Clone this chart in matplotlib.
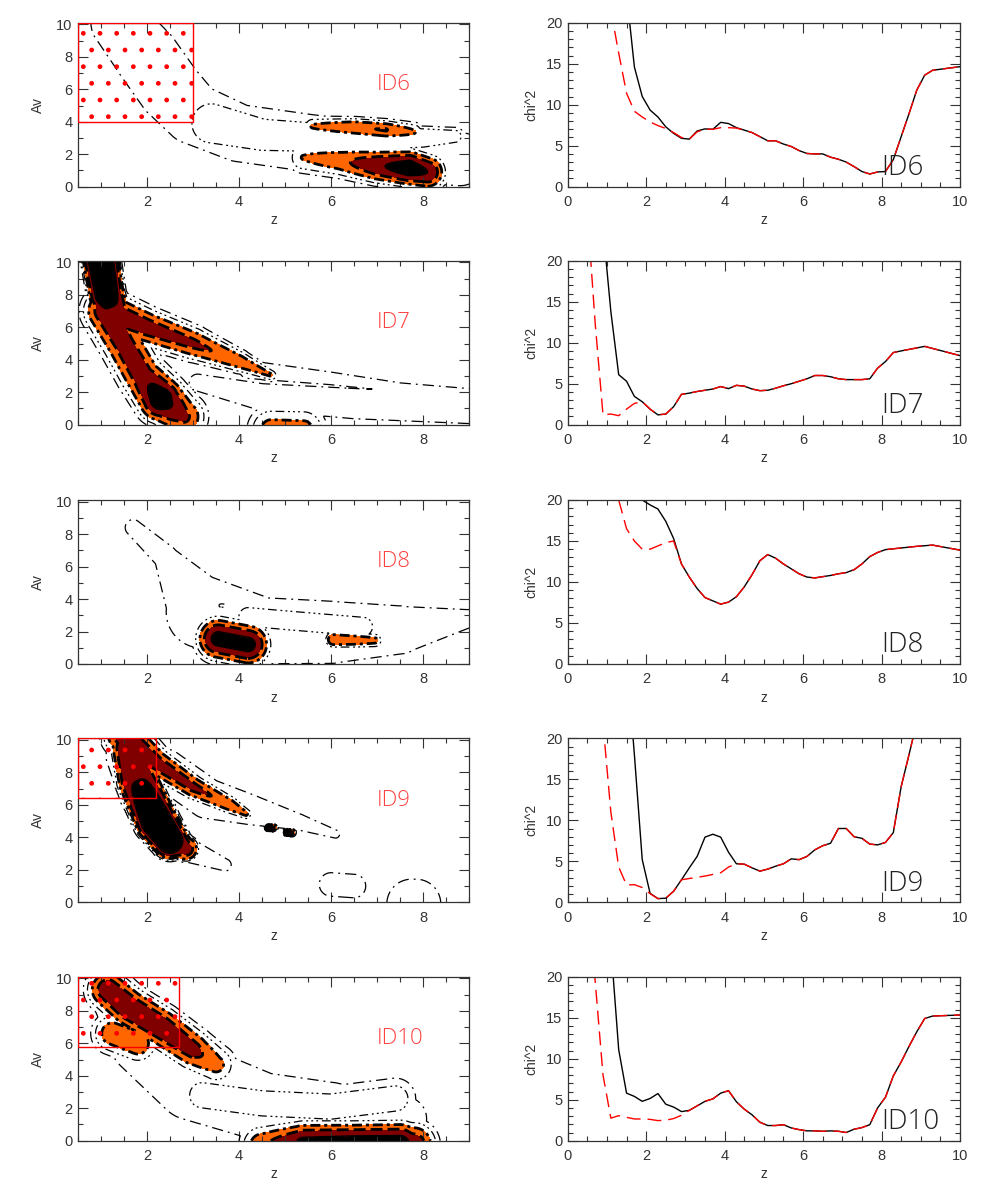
import numpy as np
import matplotlib
matplotlib.use("Agg")
import matplotlib.pyplot as plt
from matplotlib.patches import Rectangle
from matplotlib.ticker import MultipleLocator

plt.rcParams['font.family'] = ['Liberation Sans', 'DejaVu Sans']

IDS = ['ID6', 'ID7', 'ID8', 'ID9', 'ID10']

# ---- left panels: chi2 valleys in the (z, Av) plane --------------------------
# each ridge: (z vertices, Av vertices, depth at vertices, half-width px, power)
ID6_RIDGES = [
    ([5.4, 6.2, 7.0, 7.7, 8.1], [1.8, 1.6, 1.3, 1.15, 0.9], [2.95, 2.3, 1.2, 0.4, 1.0], 10, 2),
    ([5.6, 6.5, 7.2, 7.8], [3.72, 3.65, 3.5, 3.38], [2.9, 2.1, 1.95, 2.9], 6, 2),
    ([1.4, 2.0, 2.5, 3.0, 4.0, 5.5, 7.0, 8.8], [10.1, 8.0, 6.0, 4.5, 3.3, 2.7, 2.2, 1.7], 4.6,
     [30, 34, 34, 32, 30, 30, 30, 28], 2),
    ([3.4, 4.5, 6.0, 8.0, 8.7], [3.9, 3.2, 3.0, 3.0, 3.1], [3.3, 3.3, 3.3, 3.5, 3.9], [20, 16, 14, 10, 8], 4),
]
ID7_RIDGES = [
    ([1.1, 1.5, 1.9, 2.3, 2.8], [7.0, 5.0, 3.0, 1.6, 0.5], [1.3, 1.5, 1.4, 0.3, 1.8], 13, 2),
    ([0.98, 1.12, 1.3], [10.4, 8.0, 6.6], [0.2, 0.5, 1.4], 13.5, 4),
    ([1.3, 2.0, 3.0, 4.0, 4.7], [6.8, 6.0, 5.0, 3.9, 3.05], [1.3, 1.5, 1.8, 2.3, 2.9], [12, 11, 10, 7, 4], 2),
    ([4.7, 5.4], [-0.3, -0.3], [2.5, 2.6], 14, 2),
    ([3.1, 4.5, 6.5, 9.0], [2.6, 1.7, 1.3, 1.0], 4.8, [10, 16, 18, 18], 2),
    ([4.2, 6.0, 7.5, 9.2], [3.4, 2.85, 2.3, 1.9], 4.7, [10, 7, 5, 5], 2),
]
ID8_RIDGES = [
    ([3.55, 4.2], [1.55, 1.2], 0.65, 12, 2),
    ([6.05, 6.5, 6.95], [1.5, 1.47, 1.45], [2.0, 2.3, 2.7], 5, 2),
    ([3.6, 3.66], [3.6, 3.6], 3.9, 3, 2),
    ([1.7, 2.4, 3.2, 4.5, 6.0, 7.5, 9.0], [8.4, 6.6, 3.2, 2.05, 1.95, 2.1, 2.8], 4.5, [8, 12, 36, 33, 31, 24, 9], 2),
    ([4.2, 5.0, 6.7], [2.9, 2.7, 2.3], 3.6, 12, 2),
]
ID9_RIDGES = [
    ([1.5, 2.2, 3.0, 3.8, 4.15], [10.3, 8.6, 7.1, 6.0, 5.45], [1.3, 1.5, 1.7, 2.3, 2.8], [12, 9, 7.5, 6, 4], 2),
    ([1.6, 1.8, 2.2, 2.5, 2.85], [9.5, 7.5, 5.0, 3.8, 3.3], [1.5, 1.0, 0.2, 0.3, 1.8], [14, 16, 16, 14, 10], 4),
    ([4.65, 4.75], [4.6, 4.6], 0.5, 2, 2),
    ([5.05, 5.15], [4.3, 4.3], 0.5, 2, 2),
    ([2.4, 3.3, 4.25, 5.3, 6.1], [8.2, 6.4, 5.7, 4.95, 4.2], 4.5, [20, 20, 15, 8, 4], 2),
    ([1.5, 1.8, 2.3, 2.9, 3.7], [9.0, 6.5, 4.0, 3.2, 2.3], 4.5, [18, 18, 15, 12, 6], 2),
    ([7.75, 7.85], [-0.1, -0.1], 4.6, 26, 2),
    ([6.0, 6.5], [1.1, 1.0], 4.8, 14, 2),
]
ID10_RIDGES = [
    ([1.15, 1.6, 2.3, 3.0, 3.5], [9.3, 8.2, 7.0, 5.6, 4.7], [1.3, 1.1, 1.2, 1.6, 2.6], 12, 2),
    ([1.25, 1.8], [6.6, 6.0], 2.2, 12, 2),
    ([4.5, 5.4, 6.5, 7.5, 7.8], [-0.3, -0.3, -0.35, -0.3, -0.25], [2.2, 0.6, 0.35, 0.4, 1.3], 13, 2),
    ([1.3, 2.0, 3.0, 4.5, 6.0, 7.6], [9.0, 6.3, 3.6, 2.1, 1.8, 1.35], 4.5, [25, 38, 38, 34, 29, 22], 2),
    ([3.2, 4.5, 6.0, 7.4], [2.8, 2.3, 2.1, 2.6], 3.4, 14, 2),
]
RIDGES = [ID6_RIDGES, ID7_RIDGES, ID8_RIDGES, ID9_RIDGES, ID10_RIDGES]

# excluded (hatched) boxes: (z0, z1, Av0) or None
BOXES = [(0.5, 3.0, 4.0), None, None, (0.5, 2.2, 6.4), (0.5, 2.7, 5.8)]

LEVELS = [1, 2, 3]
OUTER_LEVELS = [4.2, 5.5]

# ---- right panels: chi2 vs z ------------------------------------------------
ID6_Z = [1.5, 1.7, 1.9, 2.1, 2.3, 2.5, 2.7, 2.9, 3.1, 3.3, 3.5, 3.7, 3.9, 4.1, 4.3, 4.5, 4.7, 4.9, 5.1, 5.3,
         5.5, 5.7, 5.9, 6.1, 6.3, 6.5, 6.7, 6.9, 7.1, 7.3, 7.5, 7.7, 7.9, 8.1, 8.3, 8.5, 8.7, 8.9, 9.1, 9.3, 10.1]
ID6_CHI = [23.6, 14.6, 11.0, 9.35, 8.5, 7.3, 6.5, 5.9, 5.8, 6.8, 7.05, 7.0, 7.85, 7.7, 7.2, 6.9, 6.6, 6.1, 5.6, 5.6,
           5.2, 4.9, 4.4, 4.05, 4.0, 4.0, 3.6, 3.35, 3.0, 2.45, 1.85, 1.55, 1.8, 1.85, 3.3, 6.1, 8.9, 11.8, 13.6, 14.2, 14.7]
ID6_RED_Z = [1.1, 1.3, 1.5, 1.7, 1.9, 2.1, 2.3, 2.5, 2.7, 2.9, 3.1, 3.3, 3.5, 3.7, 3.9, 4.1, 4.3]
ID6_RED = [21.5, 16.3, 11.4, 9.2, 8.5, 7.9, 7.45, 7.1, 6.6, 6.0, 5.8, 6.7, 7.0, 7.0, 7.2, 7.2, 7.15]

ID7_Z = [0.9, 1.1, 1.3, 1.5, 1.7, 1.9, 2.1, 2.3, 2.5, 2.7, 2.9, 3.1, 3.3, 3.5, 3.7, 3.9, 4.1, 4.3, 4.5, 4.7,
         4.9, 5.1, 5.3, 5.5, 5.7, 5.9, 6.1, 6.3, 6.5, 6.7, 6.9, 7.1, 7.3, 7.5, 7.7, 7.9, 8.1, 8.3, 8.5, 9.1, 10.1]
ID7_CHI = [24.0, 13.8, 6.1, 5.3, 3.45, 2.8, 1.9, 1.2, 1.3, 2.2, 3.7, 3.85, 4.05, 4.2, 4.35, 4.65, 4.4, 4.8, 4.7, 4.35,
           4.15, 4.2, 4.45, 4.75, 5.0, 5.3, 5.6, 6.0, 6.0, 5.85, 5.6, 5.5, 5.5, 5.5, 5.6, 6.9, 7.7, 8.8, 9.0, 9.55, 8.3]
ID7_RED_Z = [0.5, 0.7, 0.9, 1.1, 1.3, 1.5, 1.7]
ID7_RED = [26.0, 12.4, 1.2, 1.3, 1.1, 1.9, 2.6]

ID8_Z = [1.7, 1.9, 2.1, 2.3, 2.5, 2.7, 2.9, 3.1, 3.3, 3.5, 3.7, 3.9, 4.1, 4.3, 4.5, 4.7, 4.9, 5.1, 5.3, 5.5,
         5.7, 5.9, 6.1, 6.3, 6.5, 6.7, 6.9, 7.1, 7.3, 7.5, 7.7, 7.9, 8.1, 8.5, 8.9, 9.3, 10.1]
ID8_CHI = [21.5, 20.0, 19.4, 18.9, 17.4, 15.3, 12.2, 10.6, 9.2, 8.1, 7.7, 7.3, 7.55, 8.2, 9.4, 10.9, 12.6, 13.35, 12.9, 12.2,
           11.6, 11.0, 10.6, 10.5, 10.65, 10.8, 11.0, 11.15, 11.5, 12.2, 13.1, 13.6, 13.95, 14.15, 14.35, 14.5, 13.8]
ID8_RED_Z = [1.1, 1.3, 1.5, 1.7, 1.9, 2.1, 2.3, 2.5, 2.7]
ID8_RED = [25.0, 20.0, 16.5, 15.0, 14.0, 14.0, 14.4, 14.8, 15.0]

ID9_Z = [1.5, 1.7, 1.9, 2.1, 2.3, 2.5, 2.7, 2.9, 3.1, 3.3, 3.5, 3.7, 3.9, 4.1, 4.3, 4.5, 4.7, 4.9, 5.1, 5.3,
         5.5, 5.7, 5.9, 6.1, 6.3, 6.5, 6.7, 6.9, 7.1, 7.3, 7.5, 7.7, 7.9, 8.1, 8.3, 8.5, 8.7, 8.9]
ID9_CHI = [30.0, 18.0, 5.2, 1.1, 0.45, 0.5, 1.35, 2.75, 4.2, 5.6, 7.95, 8.3, 7.95, 6.1, 4.7, 4.65, 4.2, 3.8, 4.05, 4.4,
           4.7, 5.3, 5.2, 5.6, 6.4, 6.9, 7.2, 9.0, 9.0, 8.0, 7.8, 7.1, 7.0, 7.3, 8.5, 14.1, 18.0, 22.0]
ID9_RED_Z = [0.9, 1.1, 1.3, 1.5, 1.7, 1.9, 2.1, 3.1, 3.3, 3.5, 3.7, 3.9, 4.1]
ID9_RED = [21.8, 11.0, 4.3, 2.1, 2.15, 1.8, 1.05, 2.9, 3.05, 3.2, 3.4, 3.6, 4.3]

ID10_Z = [1.1, 1.3, 1.5, 1.7, 1.9, 2.1, 2.3, 2.5, 2.7, 2.9, 3.1, 3.3, 3.5, 3.7, 3.9, 4.1, 4.3, 4.5, 4.7, 4.9,
          5.1, 5.3, 5.5, 5.7, 5.9, 6.1, 6.3, 6.5, 6.7, 6.9, 7.1, 7.3, 7.5, 7.7, 7.9, 8.1, 8.3, 8.5, 8.7, 8.9,
          9.1, 9.3, 10.1]
ID10_CHI = [23.8, 11.1, 5.8, 5.4, 4.8, 5.15, 5.75, 4.45, 4.1, 3.55, 3.7, 4.25, 4.8, 5.1, 5.8, 6.1, 4.75, 3.85, 3.15, 2.25,
            1.85, 1.85, 1.95, 1.55, 1.35, 1.2, 1.2, 1.15, 1.2, 1.15, 1.0, 1.4, 1.6, 1.95, 4.0, 5.3, 7.9, 9.6, 11.5, 13.3,
            14.9, 15.2, 15.35]
ID10_RED_Z = [0.5, 0.7, 0.9, 1.1, 1.3, 1.5, 1.7, 1.9, 2.1, 2.3, 2.5, 2.7, 2.9]
ID10_RED = [28.5, 19.5, 8.0, 2.75, 3.05, 2.85, 2.65, 2.65, 2.6, 2.45, 2.5, 2.7, 3.1]

BLACK = [(ID6_Z, ID6_CHI), (ID7_Z, ID7_CHI), (ID8_Z, ID8_CHI), (ID9_Z, ID9_CHI), (ID10_Z, ID10_CHI)]
RED = [(ID6_RED_Z, ID6_RED), (ID7_RED_Z, ID7_RED), (ID8_RED_Z, ID8_RED), (ID9_RED_Z, ID9_RED), (ID10_RED_Z, ID10_RED)]

# pixels per data unit on the left panels, used as the distance metric
PX_Z, PX_AV = 46.0, 16.2


def surface(ridges, zg, ag):
    X, Y = zg * PX_Z, ag * PX_AV
    out = np.full(zg.shape, 99.0)
    for zs, avs, ds, ws, p in ridges:
        n = len(zs)
        ds = np.broadcast_to(np.asarray(ds, float), (n,))
        ws = np.broadcast_to(np.asarray(ws, float), (n,))
        px, py = np.asarray(zs) * PX_Z, np.asarray(avs) * PX_AV
        for i in range(n - 1):
            vx, vy = px[i + 1] - px[i], py[i + 1] - py[i]
            L2 = max(vx * vx + vy * vy, 1e-9)
            t = np.clip(((X - px[i]) * vx + (Y - py[i]) * vy) / L2, 0, 1)
            d = np.hypot(X - px[i] - t * vx, Y - py[i] - t * vy)
            dep = ds[i] + t * (ds[i + 1] - ds[i])
            w = ws[i] + t * (ws[i + 1] - ws[i])
            out = np.minimum(out, dep + (d / w) ** p)
    return out


def red_curve(bz, bc, rz, rc):
    d = dict(zip(bz, bc))
    d.update(zip(rz, rc))
    zs = sorted(d)
    return zs, [d[z] for z in zs]


def style_axes(ax):
    for s in ax.spines.values():
        s.set_color('#333333')
        s.set_linewidth(0.9)
    ax.tick_params(which='both', direction='in', top=True, right=True,
                   colors='#333333', labelsize=10.5, width=0.8)
    ax.tick_params(which='major', length=7)
    ax.tick_params(which='minor', length=3.5)
    ax.tick_params(axis='x', pad=6)
    ax.tick_params(axis='y', pad=4)


fig = plt.figure(figsize=(9.81, 11.91), dpi=100)
W, H = 981.0, 1191.0
tops = [22.7, 260.7, 500.0, 738.3, 976.7]
ph = 164.0

zg, ag = np.meshgrid(np.linspace(0.5, 9.0, 341), np.linspace(0.0, 10.1, 203))

for k, name in enumerate(IDS):
    bottom = 1 - (tops[k] + ph) / H
    axl = fig.add_axes([78 / W, bottom, 391 / W, ph / H])
    axr = fig.add_axes([567.7 / W, bottom, 392.3 / W, ph / H])

    # left: contour map
    S = surface(RIDGES[k], zg, ag)
    axl.contourf(zg, ag, S, levels=[-100] + LEVELS, colors=['black', '#800000', '#ff6600'])
    axl.contour(zg, ag, S, levels=[1], colors='k', linewidths=1.0)
    axl.contour(zg, ag, S, levels=[2], colors='k', linewidths=2.0, linestyles=[(0, (4.3, 1.8))])
    axl.contour(zg, ag, S, levels=[3], colors='k', linewidths=2.0, linestyles=[(0, (3.6, 1.4, 1.1, 1.4))])
    axl.contour(zg, ag, S, levels=[OUTER_LEVELS[0]], colors='k', linewidths=0.9,
                linestyles=[(0, (7, 3, 1.5, 2.5, 1.5, 2.5, 1.5, 3))])
    axl.contour(zg, ag, S, levels=[OUTER_LEVELS[1]], colors='k', linewidths=0.9,
                linestyles=[(0, (9, 4, 1.5, 4))])
    if BOXES[k] is not None:
        z0, z1, a0 = BOXES[k]
        axl.add_patch(Rectangle((z0, a0), z1 - z0, 10.1 - a0, fill=False, edgecolor='red',
                                hatch='.', linewidth=1.0, zorder=5))
    axl.text(7.0, 6.3, name, color='#ff4040', fontsize=16, va='center', ha='left',
             family=['Open Sans', 'DejaVu Sans'], fontweight='light')
    axl.set_xlim(0.5, 9.0)
    axl.set_ylim(0, 10.1)
    axl.set_xticks([2, 4, 6, 8])
    axl.xaxis.set_minor_locator(MultipleLocator(0.5))
    axl.set_yticks([0, 2, 4, 6, 8, 10])
    axl.yaxis.set_minor_locator(MultipleLocator(1))
    axl.set_xlabel('z', fontsize=10, color='#333333', labelpad=3)
    axl.set_ylabel('Av', fontsize=10, color='#333333', labelpad=8)
    style_axes(axl)

    # right: chi2 along z
    bz, bc = BLACK[k]
    rz, rc = red_curve(bz, bc, *RED[k])
    axr.plot(bz, bc, color='black', lw=1.0)
    axr.plot(rz, rc, color='red', lw=1.0, dashes=(10, 5))
    axr.text(7.98, 0.55, name, color='#222222', fontsize=20, ha='left', va='bottom',
             family=['Open Sans', 'DejaVu Sans'], fontweight='light')
    axr.set_xlim(0, 10)
    axr.set_ylim(0, 20)
    axr.set_xticks([0, 2, 4, 6, 8, 10])
    axr.xaxis.set_minor_locator(MultipleLocator(0.5))
    axr.set_yticks([0, 5, 10, 15, 20])
    axr.yaxis.set_minor_locator(MultipleLocator(1))
    axr.set_xlabel('z', fontsize=10, color='#333333', labelpad=3)
    axr.set_ylabel('chi^2', fontsize=10, color='#333333', labelpad=5)
    style_axes(axr)

fig.savefig('out.png', dpi=100)
